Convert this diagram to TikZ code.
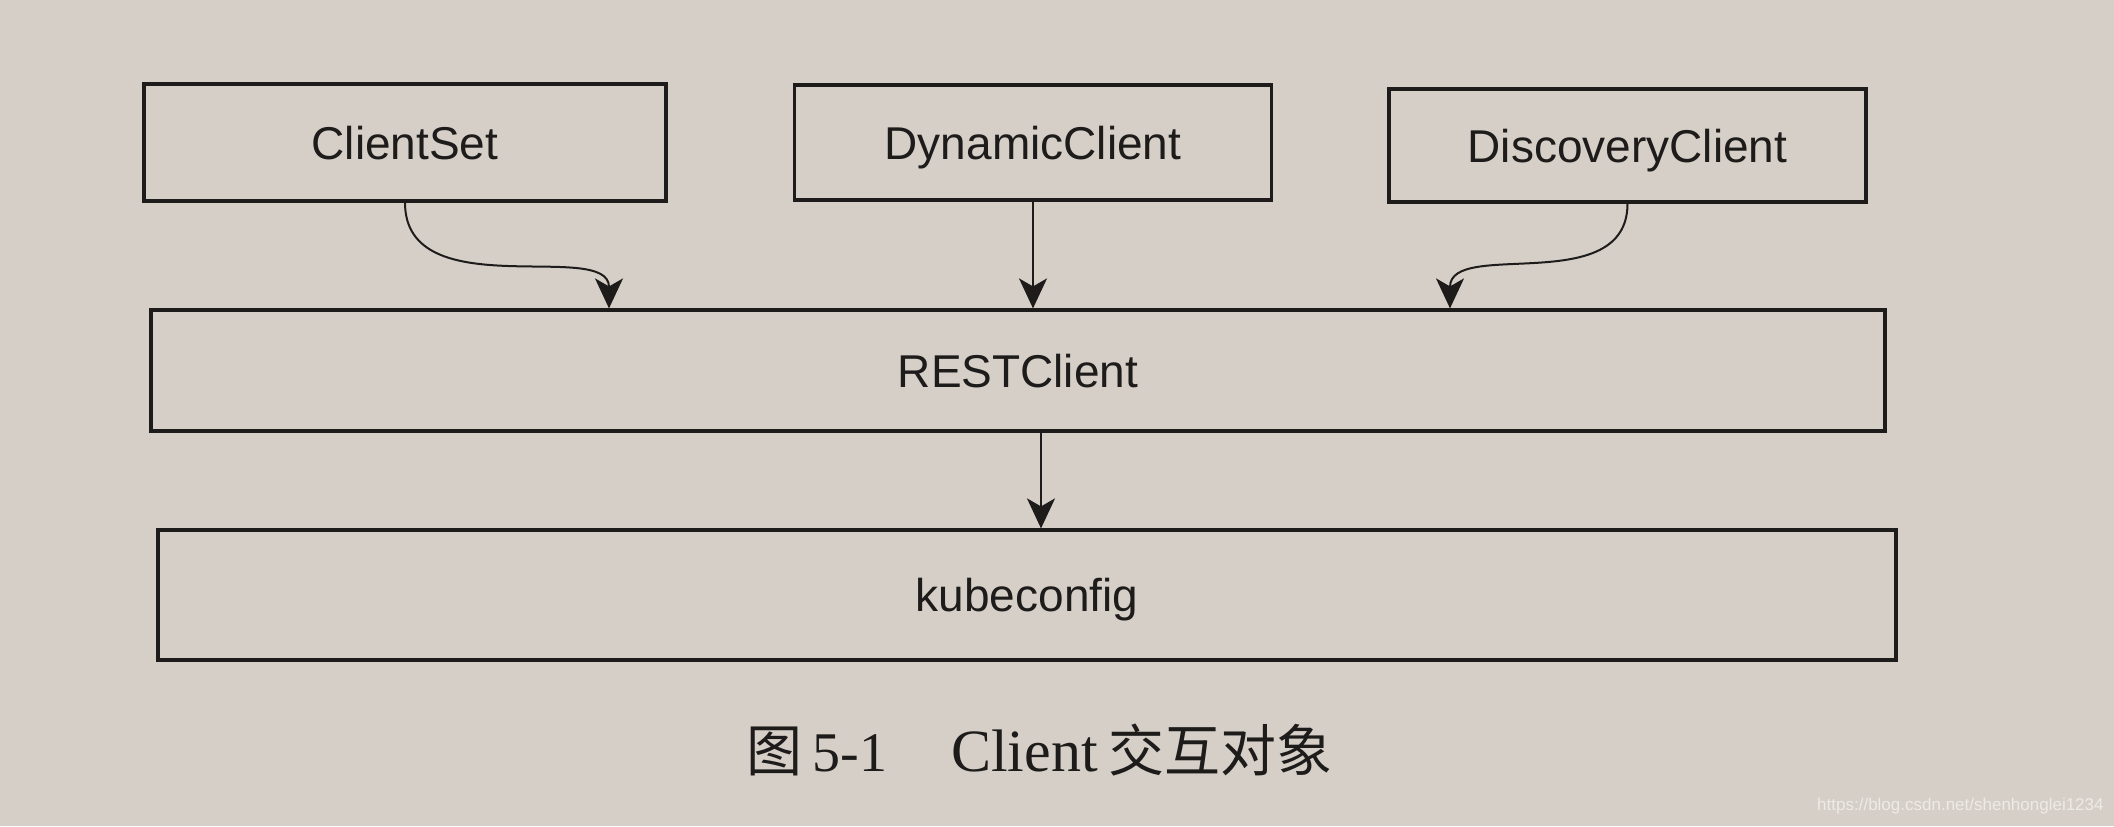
\documentclass[tikz,border=0pt]{standalone}
\usepackage{fontspec}
\setmainfont{Liberation Serif}
\setsansfont{Liberation Sans}
\newfontfamily\cjk{Noto Sans CJK SC}
\usetikzlibrary{arrows.meta}
\definecolor{paper}{HTML}{D5CFC7}
\definecolor{ink}{HTML}{1E1C1B}
\definecolor{wmark}{HTML}{EEEBE6}
\begin{document}
\begin{tikzpicture}[x=0.5pt,y=-0.5pt,
  box/.style={draw=ink, line width=1.6pt, fill=paper, inner sep=0pt,
    text height=16.5pt, text depth=0pt,
    font=\sffamily\fontsize{23}{27}\selectfont, text=ink},
  arr/.style={draw=ink, line width=1pt, -{Stealth[length=15pt,width=14pt,inset=4pt]}}]
\fill[paper] (0,0) rectangle (2114,826);
\useasboundingbox (0,0) rectangle (2114,826);
% boxes
\node[box, minimum width=261pt, minimum height=58.5pt] (cs) at (405,142.5) {ClientSet};
\node[box, minimum width=238.5pt, minimum height=57.5pt] (dc) at (1033,142.5) {DynamicClient};
\node[box, minimum width=238.5pt, minimum height=56.5pt] (disc) at (1627.5,145.5) {DiscoveryClient};
\node[box, minimum width=867pt, minimum height=60.5pt] (rest) at (1018,370.5) {RESTClient};
\node[box, minimum width=869pt, minimum height=65pt] (kube) at (1027,595) {kubeconfig};
% arrow end coordinates
\coordinate (x1) at (609,0);
\coordinate (x3) at (1450,0);
\coordinate (x4) at (1041,0);
\draw[arr] (cs.south) .. controls +(0,105) and +(0,-70) .. (rest.north -| x1);
\draw[arr] (dc.south) -- (rest.north -| dc.south);
\draw[arr] (disc.south) .. controls +(0,95) and +(0,-70) .. (rest.north -| x3);
\draw[arr] (rest.south -| x4) -- (kube.north -| x4);
% caption
\node[anchor=west, inner sep=0pt, text=ink, font=\fontsize{28}{32}\selectfont] (cap) at (746,750)
  {{\cjk 图}\hspace{5pt}5-1\hspace{32pt}{\fontsize{30}{32}\selectfont Client}\hspace{5.5pt}{\cjk 交互对象}};
% watermark
\node[anchor=east, inner sep=0pt, text=wmark, font=\sffamily\fontsize{8.5}{10}\selectfont] (wm) at (2104,806)
  {https://blog.csdn.net/shenhonglei1234};
\end{tikzpicture}
\end{document}
